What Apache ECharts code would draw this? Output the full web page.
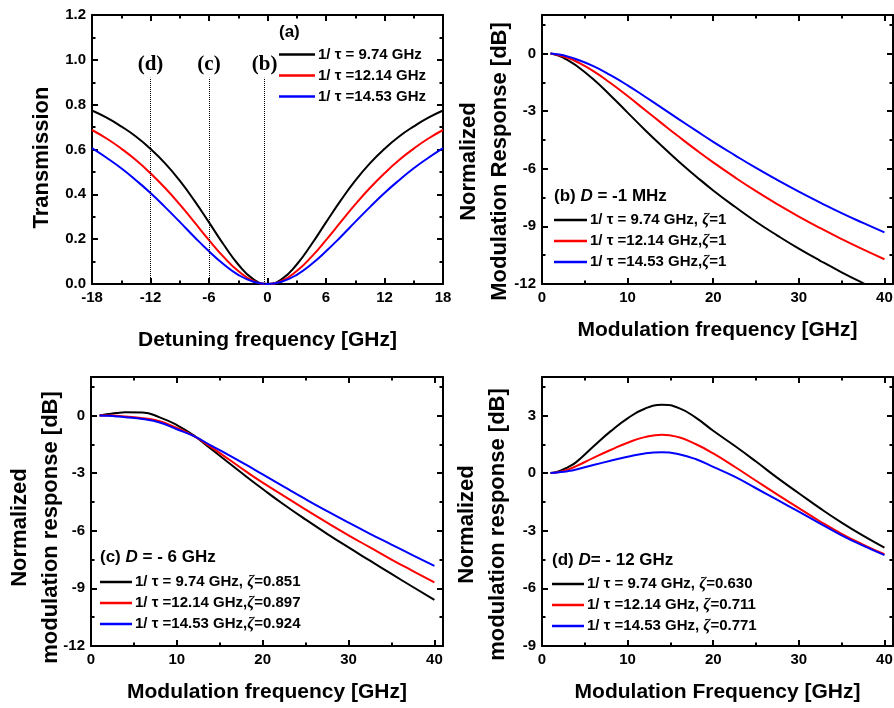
<!DOCTYPE html>
<html>
<head>
<meta charset="utf-8">
<script src="https://cdn.jsdelivr.net/npm/echarts@6/dist/echarts.min.js"></script>
<style>html,body{margin:0;padding:0;background:#fff}#c{width:894px;height:708px}</style>
</head>
<body>
<div id="c"></div>
<script>
// ---------- Panel (a): transmission vs detuning ----------
const detuning = [-18,-16.5,-15,-13.5,-12,-10.5,-9,-7.5,-6,-4.5,-3,-1.5,0,1.5,3,4.5,6,7.5,9,10.5,12,13.5,15,16.5,18];
const transBlack = [0.774,0.742,0.703,0.658,0.603,0.538,0.461,0.372,0.275,0.176,0.087,0.023,0,0.023,0.087,0.176,0.275,0.372,0.461,0.538,0.603,0.658,0.703,0.742,0.774];
const transRed   = [0.687,0.649,0.604,0.553,0.494,0.428,0.355,0.276,0.196,0.121,0.058,0.015,0,0.015,0.058,0.121,0.196,0.276,0.355,0.428,0.494,0.553,0.604,0.649,0.687];
const transBlue  = [0.606,0.563,0.516,0.463,0.406,0.343,0.277,0.210,0.146,0.088,0.041,0.011,0,0.011,0.041,0.088,0.146,0.210,0.277,0.343,0.406,0.463,0.516,0.563,0.606];
const markerPositions = [-12, -6, -0.3];
const markerLabels = ['(d)', '(c)', '(b)'];
const markerTop = 0.92;

// ---------- Modulation frequency grid (panels b, c, d) ----------
const modFreq = [1,2,3,4,6,8,10,12,14,16,18,20,22.5,25,27.5,30,32.5,35,37.5,40];
// (b) D = -1 MHz
const bBlack = [0,-0.13,-0.35,-0.63,-1.35,-2.19,-3.08,-3.97,-4.82,-5.64,-6.40,-7.13,-7.97,-8.76,-9.48,-10.16,-10.79,-11.39,-11.95,-12.48];
const bRed   = [0,-0.09,-0.23,-0.42,-0.92,-1.54,-2.22,-2.93,-3.64,-4.34,-5.02,-5.67,-6.44,-7.17,-7.85,-8.49,-9.09,-9.66,-10.20,-10.71];
const bBlue  = [0,-0.06,-0.16,-0.30,-0.66,-1.13,-1.66,-2.24,-2.83,-3.43,-4.02,-4.60,-5.29,-5.96,-6.59,-7.19,-7.76,-8.31,-8.82,-9.31];
// (c) D = -6 GHz
const cBlack = [0,0.07,0.13,0.16,0.15,-0.1,-0.5,-1.05,-1.75,-2.45,-3.15,-3.83,-4.65,-5.42,-6.16,-6.87,-7.56,-8.25,-8.93,-9.6];
const cRed   = [0,0,-0.02,-0.05,-0.14,-0.3,-0.65,-1.08,-1.65,-2.27,-2.9,-3.5,-4.2,-4.9,-5.58,-6.24,-6.87,-7.5,-8.1,-8.69];
const cBlue  = [0,-0.02,-0.05,-0.09,-0.19,-0.37,-0.72,-1.08,-1.57,-2.05,-2.55,-3.07,-3.72,-4.36,-4.98,-5.58,-6.16,-6.72,-7.28,-7.83];
// (d) D = -12 GHz
const dBlack = [0,0.1,0.3,0.57,1.38,2.17,2.85,3.35,3.55,3.38,2.87,2.2,1.42,0.6,-0.25,-1.05,-1.84,-2.58,-3.26,-3.88];
const dRed   = [0,0.06,0.18,0.36,0.79,1.2,1.58,1.87,2.0,1.86,1.5,1.02,0.33,-0.4,-1.12,-1.82,-2.52,-3.16,-3.72,-4.22];
const dBlue  = [0,0.04,0.1,0.19,0.42,0.64,0.85,1.02,1.08,0.98,0.72,0.32,-0.19,-0.79,-1.4,-2.01,-2.63,-3.24,-3.78,-4.27];

// ---------- Texts ----------
const namesA = ['1/ τ = 9.74 GHz', '1/ τ =12.14 GHz', '1/ τ =14.53 GHz'];
const namesB = ['1/ τ = 9.74 GHz, ζ=1', '1/ τ =12.14 GHz,ζ=1', '1/ τ =14.53 GHz,ζ=1'];
const namesC = ['1/ τ = 9.74 GHz, ζ=0.851', '1/ τ =12.14 GHz,ζ=0.897', '1/ τ =14.53 GHz,ζ=0.924'];
const namesD = ['1/ τ = 9.74 GHz, ζ=0.630', '1/ τ =12.14 GHz, ζ=0.711', '1/ τ =14.53 GHz, ζ=0.771'];
const colors = ['#000000', '#ff0000', '#0000ff'];

const FONT = '"Liberation Sans", Arial, Helvetica, sans-serif';
const SERIF = '"Liberation Serif", "Times New Roman", serif';

function axisSet(dim, g, min, max, major, minor, lbl, nameCfg) {
  const sideA = dim === 'x' ? 'bottom' : 'left';
  const sideB = dim === 'x' ? 'top' : 'right';
  const tick = (len) => ({show: true, inside: true, length: len, lineStyle: {color: '#000', width: 2}});
  const common = {type: 'value', gridIndex: g, min: min, max: max, splitLine: {show: false}};
  const lineOn = () => ({show: true, onZero: false, lineStyle: {color: '#000', width: 2}});
  const lineOff = () => ({show: false, onZero: false});
  return [
    Object.assign({}, common, {position: sideA, interval: major, axisLine: lineOn(), axisTick: tick(6), axisLabel: lbl}, nameCfg),
    Object.assign({}, common, {position: sideA, interval: minor, axisLine: lineOff(), axisTick: tick(3.5), axisLabel: {show: false}}),
    Object.assign({}, common, {position: sideB, interval: major, axisLine: lineOn(), axisTick: tick(6), axisLabel: {show: false}}),
    Object.assign({}, common, {position: sideB, interval: minor, axisLine: lineOff(), axisTick: tick(3.5), axisLabel: {show: false}})
  ];
}
function lbl(fmt, showMax) {
  return {show: true, margin: 6, color: '#000', fontFamily: FONT, fontWeight: 'bold', fontSize: 15,
          formatter: fmt, showMaxLabel: showMax};
}
function xName(text, gap) {
  return {name: text, nameLocation: 'middle', nameGap: gap, nameMoveOverlap: false,
          nameTextStyle: {fontFamily: FONT, fontWeight: 'bold', fontSize: 21, color: '#000', lineHeight: 26}};
}
function yName(text, gap, shift) {
  return {name: text, nameLocation: 'middle', nameGap: gap, nameRotate: 90, nameMoveOverlap: false,
          nameTextStyle: {fontFamily: FONT, fontWeight: 'bold', fontSize: 22, color: '#000', lineHeight: 31,
                          padding: [0, 2 * shift, 0, 0]}};
}
const fmtInt = v => String(Math.round(v * 100) / 100);
const fmt1 = v => v.toFixed(1);

const xAxes = [].concat(
  axisSet('x', 0, -18, 18, 6, 3, lbl(fmtInt, true), xName('Detuning frequency [GHz]', 43)),
  axisSet('x', 1, 0, 41, 10, 5, lbl(fmtInt, false), xName('Modulation frequency [GHz]', 33)),
  axisSet('x', 2, 0, 41, 10, 5, lbl(fmtInt, false), xName('Modulation frequency [GHz]', 33)),
  axisSet('x', 3, 0, 41, 10, 5, lbl(fmtInt, false), xName('Modulation Frequency [GHz]', 33))
);
const yAxes = [].concat(
  axisSet('y', 0, 0, 1.2, 0.2, 0.1, lbl(fmt1, true), yName('Transmission', 35, 8)),
  axisSet('y', 1, -12, 2, 3, 1.5, lbl(fmtInt, false), yName('Normalized\nModulation Response [dB]', 26.5, 12)),
  axisSet('y', 2, -12, 2, 3, 1.5, lbl(fmtInt, false), yName('Normalized\nmodulation response [dB]', 24.5, 16)),
  axisSet('y', 3, -9, 5, 3, 1.5, lbl(fmtInt, false), yName('Normalized\nmodulation response [dB]', 28.5, 13))
);

function ser(name, g, xs, ys, color) {
  return {type: 'line', name: name, xAxisIndex: g * 4, yAxisIndex: g * 4,
          data: xs.map((x, i) => [x, ys[i]]), showSymbol: false, symbol: 'none', smooth: 0.5,
          color: color, lineStyle: {color: color, width: 2}, itemStyle: {color: color},
          clip: true, animation: false};
}
const series = [
  ser(namesA[0], 0, detuning, transBlack, colors[0]),
  ser(namesA[1], 0, detuning, transRed, colors[1]),
  ser(namesA[2], 0, detuning, transBlue, colors[2]),
  ser(namesB[0], 1, modFreq, bBlack, colors[0]),
  ser(namesB[1], 1, modFreq, bRed, colors[1]),
  ser(namesB[2], 1, modFreq, bBlue, colors[2]),
  ser(namesC[0], 2, modFreq, cBlack, colors[0]),
  ser(namesC[1], 2, modFreq, cRed, colors[1]),
  ser(namesC[2], 2, modFreq, cBlue, colors[2]),
  ser(namesD[0], 3, modFreq, dBlack, colors[0]),
  ser(namesD[1], 3, modFreq, dRed, colors[1]),
  ser(namesD[2], 3, modFreq, dBlue, colors[2])
];
series[0].markLine = {
  symbol: ['none', 'none'], silent: true, animation: false,
  lineStyle: {type: 'dotted', color: '#000', width: 1},
  label: {show: true, position: 'end', formatter: '{b}', fontFamily: SERIF, fontWeight: 'bold',
          fontSize: 21, color: '#000', distance: 3},
  data: markerPositions.map((x, i) => [{coord: [x, 0], name: markerLabels[i]}, {coord: [x, markerTop]}])
};

function legendCfg(names, left, top, gap, w) {
  return {
    data: names, left: left, top: top, orient: 'vertical', itemGap: gap, itemWidth: w, itemHeight: 2.5,
    icon: 'rect', padding: 0, selectedMode: false,
    formatter: n => {
      const k = n.indexOf('ζ');
      if (k < 0) return '{n|' + n + '}';
      return '{n|' + n.slice(0, k) + '}{i|ζ}{n|' + n.slice(k + 1) + '}';
    },
    textStyle: {color: '#000', fontFamily: FONT, fontWeight: 'bold', fontSize: 15, padding: [0, 0, 0, -2],
      rich: {
        n: {fontFamily: FONT, fontWeight: 'bold', fontSize: 15, color: '#000', lineHeight: 16},
        i: {fontFamily: SERIF, fontStyle: 'italic', fontWeight: 'bold', fontSize: 16, color: '#000', lineHeight: 16}
      }}
  };
}
const richTitle = {
  n: {fontFamily: FONT, fontWeight: 'bold', fontSize: 17, color: '#000'},
  i: {fontFamily: FONT, fontStyle: 'italic', fontWeight: 'bold', fontSize: 17, color: '#000'}
};
function titleCfg(text, left, top) {
  return {text: text, left: left, top: top, padding: 0, textStyle: {rich: richTitle, fontFamily: FONT, fontWeight: 'bold', fontSize: 17, color: '#000'}};
}

const option = {
  backgroundColor: '#ffffff',
  animation: false,
  grid: [
    {left: 92, top: 15, width: 351, height: 269, outerBoundsMode: 'none'},
    {left: 542, top: 15, width: 351, height: 269, outerBoundsMode: 'none'},
    {left: 91, top: 377, width: 352, height: 269, outerBoundsMode: 'none'},
    {left: 542, top: 377, width: 351, height: 269, outerBoundsMode: 'none'}
  ],
  xAxis: xAxes,
  yAxis: yAxes,
  legend: [
    legendCfg(namesA, 279, 47, 6, 36),
    legendCfg(namesB, 554, 212, 5, 33),
    legendCfg(namesC, 100, 574, 5, 32),
    legendCfg(namesD, 552, 576, 5, 32)
  ],
  title: [
    titleCfg('{n|(a)}', 279, 24),
    titleCfg('{n|(b) }{i|D}{n| = -1 MHz}', 554, 188),
    titleCfg('{n|(c) }{i|D}{n| = - 6 GHz}', 100, 549),
    titleCfg('{n|(d) }{i|D}{n|= - 12 GHz}', 552, 552)
  ],
  series: series
};
const chart = echarts.init(document.getElementById('c'));
chart.setOption(option);
</script>
</body>
</html>
